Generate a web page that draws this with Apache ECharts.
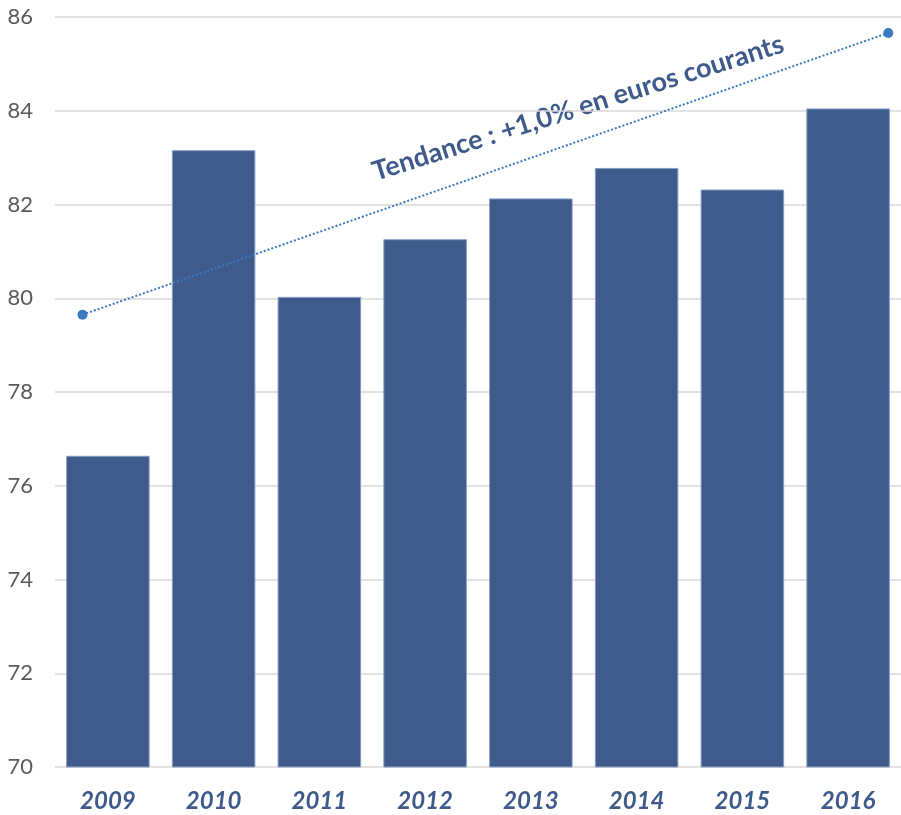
<!DOCTYPE html>
<html>
<head>
<meta charset="utf-8">
<script src="https://cdn.jsdelivr.net/npm/echarts@6/dist/echarts.min.js"></script>
<style>
  html, body { margin: 0; padding: 0; background: #fff; }
  #chart { width: 901px; height: 815px; }
</style>
</head>
<body>
<div id="chart"></div>
<script>
var years = ['2009', '2010', '2011', '2012', '2013', '2014', '2015', '2016'];
var values = [76.64, 83.16, 80.03, 81.26, 82.13, 82.78, 82.32, 84.05];
// trend line ends (x read on the category scale, 0 = 2009)
var trendX = [-0.24, 7.38];
var trendY = [79.65, 85.66];
var trendLabel = 'Tendance : +1,0% en euros courants';

var chart = echarts.init(document.getElementById('chart'));
chart.setOption({
    animation: false,
    grid: { left: 55, top: 17, width: 850, height: 750 },
    xAxis: [{
        type: 'category',
        data: years,
        axisLine: { show: false },
        axisTick: { show: false },
        axisLabel: {
            margin: 22,
            fontFamily: 'Lato',
            fontSize: 24,
            fontWeight: 'bold',
            fontStyle: 'italic',
            color: '#3d5a8a'
        }
    }, {
        type: 'value',
        min: -0.5,
        max: 7.5,
        show: false
    }],
    yAxis: {
        type: 'value',
        min: 70,
        max: 86,
        interval: 2,
        axisLine: { show: false },
        axisTick: { show: false },
        splitLine: { lineStyle: { color: '#d9d9d9', width: 1.5 } },
        axisLabel: {
            margin: 22,
            fontFamily: 'Lato',
            fontSize: 22,
            color: '#595959'
        }
    },
    series: [{
        type: 'bar',
        data: values,
        barCategoryGap: '21%',
        itemStyle: { color: '#3e5b8c', borderColor: '#8a9ec4', borderWidth: 1 }
    }, {
        type: 'line',
        xAxisIndex: 1,
        data: [[trendX[0], trendY[0]], [trendX[1], trendY[1]]],
        symbol: 'circle',
        symbolSize: 10,
        lineStyle: { color: '#3a78c0', width: 2, type: [2, 2] },
        itemStyle: { color: '#3a78c0' },
        z: 5
    }],
    graphic: [{
        type: 'text',
        x: 578,
        y: 108,
        rotation: 17.5 * Math.PI / 180,
        style: {
            text: trendLabel,
            fontFamily: 'Lato',
            fontSize: 27,
            fontWeight: 'bold',
            fill: '#3d5a8a',
            textAlign: 'center',
            textVerticalAlign: 'middle'
        }
    }]
});
</script>
</body>
</html>
